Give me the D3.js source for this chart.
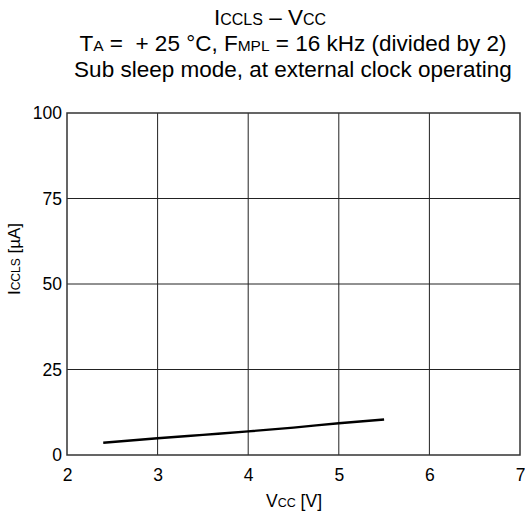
<!DOCTYPE html>
<html>
<head>
<meta charset="utf-8">
<script src="https://cdn.jsdelivr.net/npm/d3@7"></script>
<style>
  html, body { margin: 0; padding: 0; background: #fff; }
  svg { display: block; font-family: "Liberation Sans", Arial, sans-serif; }
</style>
</head>
<body>
<svg id="chart" width="525" height="517"></svg>
<script>
// Supply current vs. supply voltage, sub sleep mode
const vcc = [2.4, 3.0, 3.5, 4.0, 4.5, 5.0, 5.5];
const iccls = [3.6, 4.9, 5.9, 6.9, 8.0, 9.3, 10.4];
const xTicks = [2, 3, 4, 5, 6, 7];
const yTicks = [0, 25, 50, 75, 100];

const svg = d3.select("#chart");
const plotL = 67, plotR = 520, plotT = 113, plotB = 455;

const x = d3.scaleLinear().domain([2, 7]).range([plotL, plotR]);
const y = d3.scaleLinear().domain([0, 100]).range([plotB, plotT]);

// Grid lines
svg.append("g")
  .selectAll("line")
  .data(xTicks.slice(1, -1))
  .join("line")
  .attr("x1", d => x(d)).attr("x2", d => x(d))
  .attr("y1", plotT).attr("y2", plotB)
  .attr("stroke", "#222").attr("stroke-width", 1);

svg.append("g")
  .selectAll("line")
  .data(yTicks.slice(1, -1))
  .join("line")
  .attr("x1", plotL).attr("x2", plotR)
  .attr("y1", d => y(d)).attr("y2", d => y(d))
  .attr("stroke", "#222").attr("stroke-width", 1);

// Frame
svg.append("rect")
  .attr("x", plotL).attr("y", plotT)
  .attr("width", plotR - plotL).attr("height", plotB - plotT)
  .attr("fill", "none").attr("stroke", "#333").attr("stroke-width", 1.5);

// Axes (labels only, frame drawn above)
const fmt = d3.format("d");
const xAxis = svg.append("g")
  .attr("transform", `translate(0,${plotB})`)
  .call(d3.axisBottom(x).tickValues(xTicks).tickFormat(fmt).tickSize(0).tickPadding(14));
xAxis.select(".domain").remove();
xAxis.selectAll("text").attr("font-size", 17.5).attr("fill", "#000")
  .attr("font-family", "Liberation Sans, Arial, sans-serif");

const yAxis = svg.append("g")
  .attr("transform", `translate(${plotL},0)`)
  .call(d3.axisLeft(y).tickValues(yTicks).tickFormat(fmt).tickSize(0).tickPadding(5));
yAxis.select(".domain").remove();
yAxis.selectAll("text").attr("font-size", 17.5).attr("fill", "#000")
  .attr("font-family", "Liberation Sans, Arial, sans-serif");

// Data line
svg.append("path")
  .datum(vcc.map((v, i) => [v, iccls[i]]))
  .attr("fill", "none")
  .attr("stroke", "#000")
  .attr("stroke-width", 2.4)
  .attr("d", d3.line().x(d => x(d[0])).y(d => y(d[1])).curve(d3.curveMonotoneX));

// Text helper: main + subscript pieces on the same baseline
function label(g, parts, size, subSize) {
  const t = g.append("text").attr("text-anchor", "middle").attr("fill", "#000")
    .attr("font-size", size);
  parts.forEach(p => {
    t.append("tspan").text(p[0]).attr("font-size", p[1] ? subSize : size);
  });
  return t;
}

// Titles
const t1 = label(svg, [["I", 0], ["CCLS", 1], [" \u2013 V", 0], ["CC", 1]], 22.5, 16);
t1.attr("x", 270).attr("y", 25);
const t2 = label(svg, [["T", 0], ["A", 1], [" =  + 25 \u00b0C, F", 0], ["MPL", 1], [" = 16 kHz (divided by 2)", 0]], 22.5, 15.5);
t2.attr("x", 293).attr("y", 51).attr("xml:space", "preserve");
const t3 = label(svg, [["Sub sleep mode, at external clock operating", 0]], 22.5, 15.5);
t3.attr("x", 293).attr("y", 77);

// Axis titles
const xl = label(svg, [["V", 0], ["CC", 1], [" [V]", 0]], 17.5, 12.5);
xl.attr("x", 294).attr("y", 507);
const yl = label(svg, [["I", 0], ["CCLS", 1], [" [\u00b5A]", 0]], 17, 12);
yl.attr("transform", `translate(20,259) rotate(-90)`);
</script>
</body>
</html>
